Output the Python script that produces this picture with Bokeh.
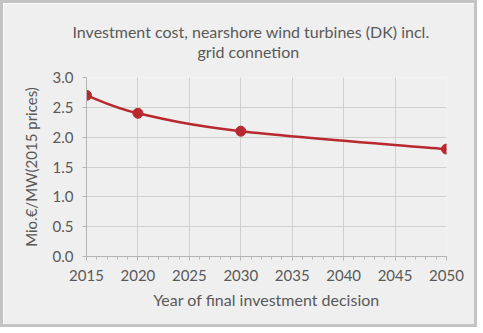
from bokeh.plotting import figure
from bokeh.models import Title, Range1d, FixedTicker, CustomJSTickFormatter
from bokeh.embed import file_html
from bokeh.resources import INLINE

years = [2015, 2020, 2030, 2050]
cost = [2.70, 2.40, 2.10, 1.80]
x_ticks = [2015, 2020, 2025, 2030, 2035, 2040, 2045, 2050]
y_ticks = [0.0, 0.5, 1.0, 1.5, 2.0, 2.5, 3.0]
title_line1 = "Investment cost, nearshore wind turbines (DK) incl."
title_line2 = "grid connetion"
x_label = "Year of final investment decision"
y_label = "Mio.€/MW(2015 prices)"

FONT = "Lato"
TXT = "#595959"
LINE = "#b8292f"
BG = "#efefef"

p = figure(width=477, height=327, output_backend="svg", toolbar_location=None,
           x_range=Range1d(2015, 2050), y_range=Range1d(0, 3.0),
           min_border_left=83, min_border_right=34, min_border_top=74, min_border_bottom=74,
           background_fill_color=BG, border_fill_color=BG)
p.styles = {"border": "3px solid #c3c3c3"}
p.outline_line_color = None

t2 = Title(text=title_line2, align="left", text_font=FONT, text_font_size="16px",
           text_color=TXT, text_font_style="normal", offset=111, standoff=33,
           text_line_height=1.0)
t1 = Title(text=title_line1, align="left", text_font=FONT, text_font_size="16px",
           text_color=TXT, text_font_style="normal", offset=-14, standoff=-34,
           text_line_height=1.0)
p.add_layout(t2, "above")
p.add_layout(t1, "above")

p.xaxis.ticker = FixedTicker(ticks=x_ticks, minor_ticks=list(range(2015, 2051)))
p.yaxis.ticker = FixedTicker(ticks=y_ticks)
p.yaxis.formatter = CustomJSTickFormatter(code="return tick.toFixed(1);")
for ax in (p.xaxis, p.yaxis):
    ax.axis_line_color = "#b4b4b4"
    ax.major_tick_line_color = "#b4b4b4"
    ax.minor_tick_line_color = "#b4b4b4"
    ax.major_label_text_font = FONT
    ax.major_label_text_font_size = "15px"
    ax.major_label_text_color = TXT
    ax.axis_label_text_font = FONT
    ax.axis_label_text_color = TXT
    ax.axis_label_text_font_style = "normal"
p.xaxis.axis_label_text_font_size = "16px"
p.yaxis.axis_label_text_font_size = "15px"
p.xaxis.axis_label = x_label
p.yaxis.axis_label = y_label
p.xaxis.major_tick_in = 0
p.xaxis.major_tick_out = 4
p.xaxis.minor_tick_in = 0
p.xaxis.minor_tick_out = 3
p.yaxis.major_tick_in = 0
p.yaxis.major_tick_out = 4
p.yaxis.minor_tick_line_color = None
p.xaxis.major_label_standoff = 9
p.yaxis.major_label_standoff = 9
p.xaxis.axis_label_standoff = 6
p.yaxis.axis_label_standoff = 10

p.xgrid.grid_line_color = "#cfcfcf"
p.ygrid.grid_line_color = "#cfcfcf"

# smoothed line (Catmull-Rom style bezier through data points, like Excel smoothing)
n = len(years)
x0, y0, x1, y1, cx0, cy0, cx1, cy1 = [], [], [], [], [], [], [], []
for i in range(n - 1):
    xp, yp = (years[i - 1], cost[i - 1]) if i > 0 else (years[i], cost[i])
    xa, ya = years[i], cost[i]
    xb, yb = years[i + 1], cost[i + 1]
    xn, yn = (years[i + 2], cost[i + 2]) if i + 2 < n else (xb, yb)
    t = 1 / 6
    x0.append(xa); y0.append(ya); x1.append(xb); y1.append(yb)
    cx0.append(xa + (xb - xp) * t); cy0.append(ya + (yb - yp) * t)
    cx1.append(xb - (xn - xa) * t); cy1.append(yb - (yn - ya) * t)
p.bezier(x0=x0, y0=y0, x1=x1, y1=y1, cx0=cx0, cy0=cy0, cx1=cx1, cy1=cy1,
         line_color=LINE, line_width=2.5)
p.scatter(years, cost, size=10, fill_color=LINE, line_color=LINE)

open("out.html", "w").write(file_html(p, INLINE))
